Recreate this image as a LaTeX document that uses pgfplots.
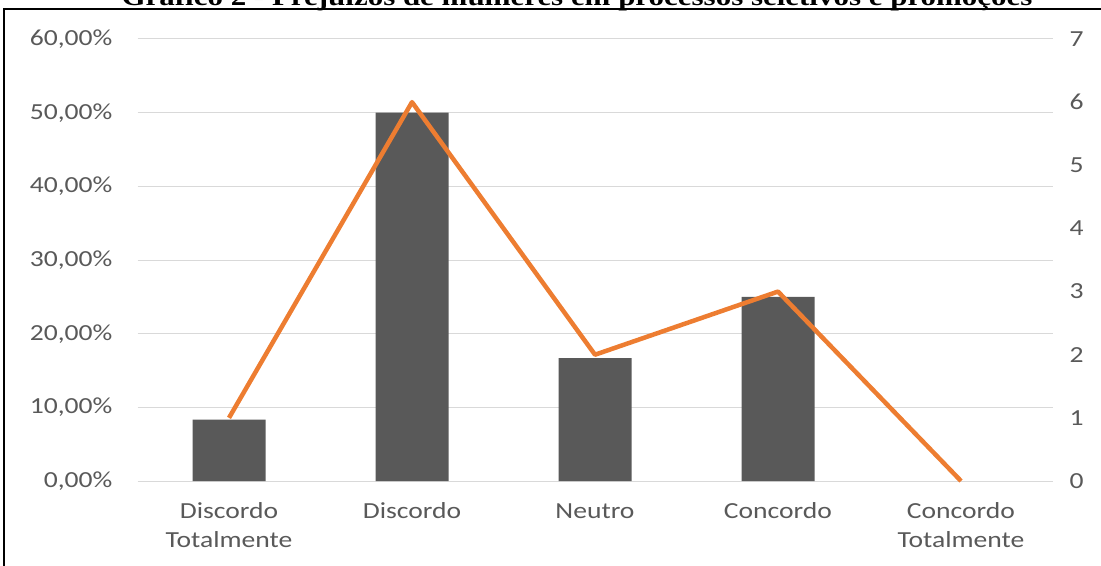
\documentclass[border=0pt]{standalone}
\usepackage{pgfplots}
\pgfplotsset{compat=1.18}
\usepackage{fontspec}
\setmainfont{Carlito}[FakeStretch=1.2]
\newfontfamily\titlefont{Liberation Serif}[FakeStretch=1.2]
\definecolor{bargray}{HTML}{595959}
\definecolor{lineor}{HTML}{ED7D31}
\definecolor{gridc}{HTML}{D9D9D9}
\definecolor{txt}{HTML}{595959}
\begin{document}
\begin{tikzpicture}
\path[use as bounding box] (0pt,0pt) rectangle (550.5pt,-283pt);
\begin{scope}
\clip (0pt,0pt) rectangle (550.5pt,-283pt);
\node[anchor=base, inner sep=0pt, font=\titlefont\bfseries\fontsize{12.9}{15}\selectfont] at (288.5pt,-2.6pt) {Gráfico 2 - Prejuízos de mulheres em processos seletivos e promoções};
\end{scope}
\draw[line width=1pt] (2pt,-283pt) -- (2pt,-4.75pt) -- (550.5pt,-4.75pt);
\begin{axis}[
  at={(68.75pt,-240.5pt)}, anchor=south west,
  scale only axis, width=457.5pt, height=221pt,
  xmin=-0.5, xmax=4.5, ymin=0, ymax=60,
  axis line style={draw=none},
  ymajorgrids, grid style={gridc, line width=0.5pt},
  major tick length=0pt,
  ytick={0,10,20,30,40,50,60},
  yticklabels={{0,00\%},{10,00\%},{20,00\%},{30,00\%},{40,00\%},{50,00\%},{60,00\%}},
  xtick={0,1,2,3,4},
  xticklabels={{\strut Discordo\\\strut Totalmente},{\strut Discordo},{\strut Neutro},{\strut Concordo},{\strut Concordo\\\strut Totalmente}},
  tick label style={font=\fontsize{11.5}{14.5}\selectfont, text=txt},
  yticklabel style={xshift=-9pt},
  xticklabel style={align=center, anchor=north, yshift=-5pt},
  clip=false,
]
\addplot[ybar, bar width=36.5pt, fill=bargray, draw=none] coordinates {(0,8.33)(1,50)(2,16.67)(3,25)};
\end{axis}
\begin{axis}[
  at={(68.75pt,-240.5pt)}, anchor=south west,
  scale only axis, width=457.5pt, height=221pt,
  xmin=-0.5, xmax=4.5, ymin=0, ymax=7,
  axis y line*=right, axis x line=none,
  axis line style={draw=none},
  major tick length=0pt,
  ytick={0,1,2,3,4,5,6,7},
  /pgf/number format/assume math mode=true,
  tick label style={font=\fontsize{11.5}{14.5}\selectfont, text=txt},
  yticklabel style={xshift=5pt},
  clip=false,
]
\addplot[lineor, line width=2.25pt, line join=round, mark=none] coordinates {(0,1)(1,6)(2,2)(3,3)(4,0)};
\end{axis}
\end{tikzpicture}
\end{document}
